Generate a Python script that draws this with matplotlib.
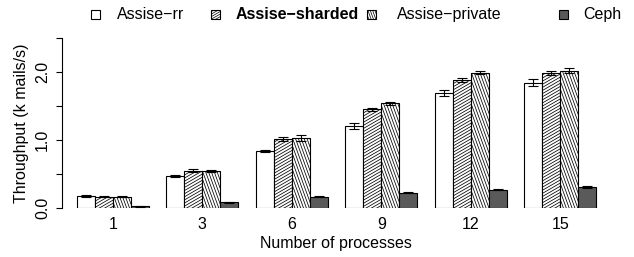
import numpy as np
import matplotlib
matplotlib.use('Agg')
import matplotlib.pyplot as plt
from matplotlib.patches import Rectangle
from matplotlib.collections import LineCollection
from matplotlib.transforms import IdentityTransform

plt.rcParams['font.family'] = ['Liberation Sans', 'DejaVu Sans']

procs = ['1', '3', '6', '9', '12', '15']
series = ['Assise\u2212rr', 'Assise\u2212sharded', 'Assise\u2212private', 'Ceph']
rr = [0.18, 0.48, 0.84, 1.21, 1.69, 1.84]
sharded = [0.17, 0.55, 1.02, 1.45, 1.88, 1.98]
private = [0.17, 0.55, 1.03, 1.54, 1.99, 2.02]
ceph = [0.03, 0.09, 0.17, 0.23, 0.27, 0.31]
rr_err = [0.01, 0.015, 0.02, 0.04, 0.045, 0.05]
sharded_err = [0.01, 0.02, 0.03, 0.025, 0.025, 0.03]
private_err = [0.01, 0.015, 0.04, 0.025, 0.025, 0.035]
ceph_err = [0.005, 0.005, 0.005, 0.008, 0.008, 0.01]

W, H = 634, 257
FS = 11.5
fig = plt.figure(figsize=(W / 100, H / 100), dpi=100)
fig.patch.set_facecolor('white')

# axes placed in pixel terms (y-axis at x=62, zero at y=208, 2.5 at y=38)
ax = fig.add_axes([62 / W, (H - 208.3) / H, (614 - 62) / W, (208.3 - 37.9) / H])
ax.set_xlim(0.168, 31)
ax.set_ylim(0, 2.5)


def hatch(patch, angle, spacing=2.7, lw=0.55):
    """draw slanted lines clipped to a patch (R style density/angle hatching)"""
    bb = patch.get_window_extent()
    a = np.deg2rad(angle)
    d = np.array([np.cos(a), np.sin(a)])
    n = np.array([-np.sin(a), np.cos(a)])
    c = np.array([(bb.x0 + bb.x1) / 2, (bb.y0 + bb.y1) / 2])
    L = np.hypot(bb.width, bb.height)
    segs = []
    for p in np.arange(-L / 2, L / 2 + spacing, spacing):
        m = c + p * n
        segs.append([m - L * d, m + L * d])
    lc = LineCollection(segs, colors='black', linewidths=lw,
                        transform=IdentityTransform(), zorder=patch.get_zorder() + 0.1)
    lc.set_clip_path(patch)
    fig.add_artist(lc)


data = [rr, sharded, private, ceph]
errs = [rr_err, sharded_err, private_err, ceph_err]
fills = ['white', 'white', 'white', '#5a5a5a']
angles = [None, 30, -70, None]

for k in range(4):
    x = [1 + 5 * g + k for g in range(len(procs))]
    bars = ax.bar(x, data[k], width=1, align='edge', color=fills[k],
                  edgecolor='black', linewidth=0.8, zorder=2)
    if angles[k] is not None:
        for b in bars:
            hatch(b, angles[k])
    ax.errorbar([xi + 0.5 for xi in x], data[k], yerr=errs[k], fmt='none',
                ecolor='black', elinewidth=0.8, capsize=3.6, capthick=0.8, zorder=4)

ax.spines[['top', 'right', 'bottom']].set_visible(False)
ax.spines['left'].set_bounds(0, 2.5)
ax.spines['left'].set_linewidth(0.8)
ax.set_yticks([0, 0.5, 1.0, 1.5, 2.0, 2.5])
ax.set_yticklabels(['0.0', '', '1.0', '', '2.0', ''], rotation=90, va='center')
ax.tick_params(axis='y', length=4, width=0.8, pad=4.5, labelsize=FS)
ax.set_xticks([3 + 5 * g for g in range(len(procs))])
ax.set_xticklabels(procs)
ax.tick_params(axis='x', length=0, pad=6.5, labelsize=FS)

fig.text(336 / W, (H - 248) / H, 'Number of processes', ha='center', va='baseline', fontsize=FS)
fig.text(26 / W, (H - 123) / H, 'Throughput (k mails/s)', ha='center', va='baseline',
         rotation=90, rotation_mode='anchor', fontsize=FS)

# legend above the plot
box_x = [91, 211, 367, 559]
text_x = [117, 236, 397, 583]
box_fill = ['white', 'white', 'white', '#5a5a5a']
for k in range(4):
    r = Rectangle((box_x[k] / W, (H - 19) / H), 9 / W, 9 / H, transform=fig.transFigure,
                  facecolor=box_fill[k], edgecolor='black', linewidth=0.8)
    fig.add_artist(r)
    if angles[k] is not None:
        hatch(r, angles[k], spacing=2.2, lw=0.5)
    fig.text(text_x[k] / W, (H - 19) / H, series[k], ha='left', va='baseline', fontsize=FS,
             fontweight='bold' if k == 1 else 'normal')

fig.savefig('out.png', dpi=100)
